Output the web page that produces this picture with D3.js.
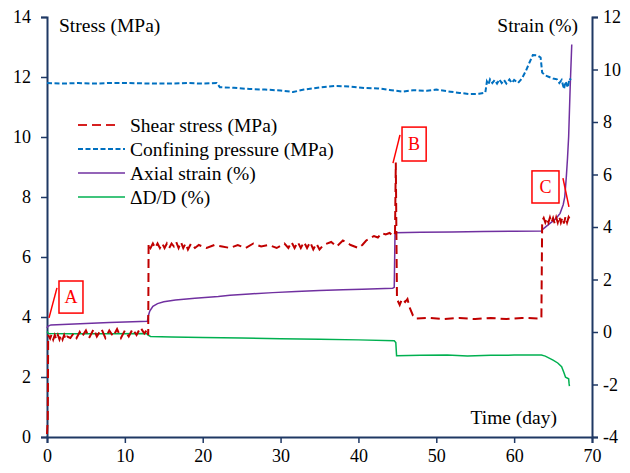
<!DOCTYPE html>
<html>
<head>
<meta charset="utf-8">
<script src="https://cdn.jsdelivr.net/npm/d3@7"></script>
<style>
  body { margin: 0; background: #fff; }
</style>
</head>
<body>
<div id="chart"></div>
<script>
// [day, value] pairs
const shearStress = [
  [0,0.1],[0.1,0.6],[0.15,3.4],[0.4,3.28],[0.6,3.42],[0.8,3.25],[1.0,3.4],[1.2,3.25],[1.4,3.4],[1.6,3.25],
  [1.8,3.4],[2.0,3.25],[2.2,3.4],[2.4,3.25],[2.6,3.35],[3.0,3.3],[3.4,3.45],[3.8,3.3],[4.2,3.5],[4.5,3.35],
  [5.0,3.55],[5.4,3.3],[6.0,3.6],[6.4,3.35],[7.0,3.6],[7.5,3.3],[8.0,3.55],[8.5,3.35],[9.0,3.6],[9.5,3.3],
  [10,3.55],[10.5,3.35],[11,3.6],[11.5,3.4],[12,3.65],[12.5,3.45],[12.9,3.6],[13.0,3.4],[13.05,6.45],
  [13.3,6.3],[13.6,6.45],[13.9,6.3],[14.2,6.45],[14.5,6.3],[14.8,6.45],[15.1,6.3],[15.4,6.45],[15.7,6.3],
  [16,6.45],[16.3,6.35],[16.6,6.5],[16.9,6.3],[17.2,6.5],[17.5,6.3],[17.8,6.45],[18.1,6.25],[18.5,6.45],
  [19,6.3],[19.5,6.4],[20.5,6.3],[21.5,6.4],[22.5,6.35],[23.5,6.3],[24.5,6.4],[25.5,6.3],[26.5,6.45],
  [27.5,6.35],[28.5,6.4],[29.5,6.3],[30.5,6.45],[31,6.3],[31.4,6.5],[31.8,6.3],[32.2,6.5],[32.6,6.3],
  [33,6.5],[33.4,6.3],[33.8,6.5],[34.2,6.25],[34.6,6.45],[35,6.25],[35.5,6.4],[36.5,6.5],[37.2,6.35],
  [38,6.55],[39,6.4],[40,6.3],[40.5,6.4],[41,6.55],[42,6.7],[42.5,6.65],[43,6.8],[43.5,6.75],[44,6.8],
  [44.5,6.7],[44.7,6.8],[44.8,9.15],[44.95,4.6],[45.3,4.4],[45.6,4.6],[46,4.5],[46.3,4.6],[46.6,4.3],
  [47,4.05],[47.3,3.95],[49,3.97],[51,3.93],[53,3.97],[55,3.93],[57,3.97],[59,3.93],[61,3.97],[63.5,3.95],
  [63.6,7.2],[63.8,7.3],[64.0,7.15],[64.2,7.3],[64.4,7.15],[64.6,7.32],[64.8,7.15],[65.0,7.3],[65.2,7.12],
  [65.4,7.32],[65.6,7.15],[65.8,7.35],[66.0,7.15],[66.2,7.32],[66.4,7.12],[66.6,7.35],[66.8,7.15],
  [67.0,7.33],[67.3,7.2]
];
const confiningPressure = [
  [0,11.8],[2,11.78],[4,11.8],[6,11.78],[8,11.8],[10,11.8],[12,11.79],[14,11.78],[16,11.78],[18,11.8],
  [20,11.78],[21.8,11.8],[22.2,11.66],[24,11.64],[26,11.6],[28,11.58],[30,11.55],[31.6,11.5],[33,11.58],
  [35,11.65],[37,11.7],[39,11.68],[41,11.63],[42.5,11.62],[44,11.57],[45.7,11.51],[47,11.56],[48.8,11.54],
  [50,11.58],[51.8,11.51],[53,11.47],[54.3,11.43],[55.5,11.44],[56.3,11.48],[56.5,11.85],[56.7,11.75],
  [56.9,11.92],[57.2,11.8],[57.5,11.9],[57.8,11.78],[58.1,11.92],[58.4,11.8],[58.7,11.9],[59,11.78],
  [59.4,11.92],[59.7,11.8],[60,11.9],[60.5,11.8],[61,11.95],[61.5,12.2],[62,12.5],[62.4,12.73],[63,12.72],
  [63.4,12.65],[63.6,12.15],[64,12.05],[64.5,12.0],[65,11.95],[65.5,11.92],[65.8,11.8],[66.1,11.9],
  [66.4,11.6],[66.6,11.85],[66.9,11.65],[67.1,11.95],[67.3,11.9]
];
const axialStrain = [
  [0,0.15],[0.1,0.22],[0.5,0.27],[2,0.29],[5,0.32],[8,0.36],[11,0.39],[12.9,0.41],[13,0.6],[13.2,0.8],
  [13.6,0.98],[14.2,1.08],[15,1.15],[16.5,1.22],[19,1.29],[22,1.35],[23.5,1.4],[26,1.45],[29,1.5],
  [32,1.54],[35,1.58],[38,1.61],[40.5,1.63],[44.4,1.67],[44.6,1.7],[44.7,3.78],[48,3.8],[52,3.81],
  [56,3.83],[60,3.84],[63.5,3.85],[63.7,3.92],[64.6,4.14],[65.3,4.3],[65.9,4.52],[66.3,4.85],[66.5,5.15],
  [66.7,5.9],[66.85,6.6],[67,7.44],[67.2,9.35],[67.4,10.95]
];
const diameterChange = [
  [0,0.02],[0.2,-0.06],[3,-0.07],[8,-0.07],[12.8,-0.06],[13,-0.12],[13.3,-0.17],[16,-0.19],[20,-0.21],
  [25,-0.23],[30,-0.26],[35,-0.28],[40,-0.3],[44.6,-0.33],[44.8,-0.4],[44.9,-0.9],[48,-0.89],[51.4,-0.88],
  [54,-0.91],[57,-0.89],[60,-0.88],[63.5,-0.88],[64,-0.92],[65,-1.07],[65.6,-1.18],[66.1,-1.32],
  [66.4,-1.55],[66.6,-1.72],[67,-1.78],[67.05,-1.95],[67.1,-2.06]
];

const xTicks = [0,10,20,30,40,50,60,70];
const stressTicks = [0,2,4,6,8,10,12,14];
const strainTicks = [-4,-2,0,2,4,6,8,10,12];

// stage markers: box corners and leader line in data units (day, MPa)
const stages = [
  { label: "A", box: [1.54, 4.62, 5.2, 4.13], lead: [[0.26, 3.97], [1.28, 4.97]] },
  { label: "B", box: [45.6, 48.7, 10.33, 9.2], lead: [[44.44, 9.13], [45.34, 10.07]] },
  { label: "C", box: [62.29, 65.76, 8.87, 7.8], lead: [[66.27, 8.63], [67.04, 7.67]] }
];

const width = 630, height = 473;
const margin = { top: 17, right: 38, bottom: 36, left: 47 };
const axisColor = "#1f3864";
const FONT = "'Liberation Serif', 'Times New Roman', serif";

const svg = d3.select("#chart").append("svg").attr("width", width).attr("height", height);

const x = d3.scaleLinear().domain([0, 70]).range([margin.left, width - margin.right]);
const yL = d3.scaleLinear().domain([0, 14]).range([height - margin.bottom, margin.top]);
const yR = d3.scaleLinear().domain([-4, 12]).range([height - margin.bottom, margin.top]);
const fmt = d => (d < 0 ? "-" + Math.abs(d) : String(d));

function styleAxis(g){
  g.attr("font-family", null).attr("font-size", null);
  g.select(".domain").attr("stroke", axisColor).attr("stroke-width", 2);
  g.selectAll(".tick line").attr("stroke", axisColor).attr("stroke-width", 1.5);
  g.selectAll(".tick text").attr("fill", "#000").attr("font-family", FONT).attr("font-size", 18);
}

svg.append("g").attr("transform", `translate(0,${height - margin.bottom})`)
  .call(d3.axisBottom(x).tickValues(xTicks).tickSizeOuter(0).tickSize(6).tickPadding(6).tickFormat(fmt))
  .call(styleAxis);
svg.append("g").attr("transform", `translate(${margin.left},0)`)
  .call(d3.axisLeft(yL).tickValues(stressTicks).tickSizeOuter(0).tickSize(6).tickPadding(10).tickFormat(fmt))
  .call(styleAxis);
svg.append("g").attr("transform", `translate(${width - margin.right},0)`)
  .call(d3.axisRight(yR).tickValues(strainTicks).tickSizeOuter(0).tickSize(6).tickPadding(5).tickFormat(fmt))
  .call(styleAxis);

const lineL = d3.line().x(d => x(d[0])).y(d => yL(d[1]));
const lineR = d3.line().x(d => x(d[0])).y(d => yR(d[1]));

const series = [
  { name: "Shear stress (MPa)", data: shearStress, gen: lineL, color: "#c00000", dash: "9,5", w: 2 },
  { name: "Confining pressure (MPa)", data: confiningPressure, gen: lineL, color: "#0070c0", dash: "5,2.5", w: 2 },
  { name: "Axial strain (%)", data: axialStrain, gen: lineR, color: "#7030a0", dash: null, w: 1.5 },
  { name: "\u0394D/D (%)", data: diameterChange, gen: lineR, color: "#00b050", dash: null, w: 1.5 }
];

// draw order: green, purple under the dashed stress lines
[series[3], series[2], series[1], series[0]].forEach(s => {
  svg.append("path").datum(s.data).attr("d", s.gen)
    .attr("fill", "none").attr("stroke", s.color).attr("stroke-width", s.w)
    .attr("stroke-dasharray", s.dash);
});

// stage markers
const mark = svg.append("g");
stages.forEach(s => {
  const [x0, x1, y0, y1] = s.box;
  mark.append("rect").attr("x", x(x0)).attr("y", yL(y0)).attr("width", x(x1) - x(x0)).attr("height", yL(y1) - yL(y0))
    .attr("fill", "#fff").attr("stroke", "#ff0000").attr("stroke-width", 1.5);
  mark.append("text").attr("x", (x(x0) + x(x1)) / 2).attr("y", (yL(y0) + yL(y1)) / 2 + 6)
    .attr("text-anchor", "middle").attr("fill", "#ff0000")
    .attr("font-family", FONT).attr("font-size", 18).text(s.label);
  mark.append("line").attr("x1", x(s.lead[0][0])).attr("y1", yL(s.lead[0][1]))
    .attr("x2", x(s.lead[1][0])).attr("y2", yL(s.lead[1][1])).attr("stroke", "#ff0000").attr("stroke-width", 1.5);
});

// legend
const legend = svg.append("g").attr("transform", "translate(78,125)");
series.forEach((s, i) => {
  const row = legend.append("g").attr("transform", `translate(0,${i * 24})`);
  row.append("line").attr("x1", 0).attr("x2", s.dash === "9,5" ? 42 : 47).attr("y1", 0).attr("y2", 0)
    .attr("stroke", s.color === "#c00000" ? "#d62020" : s.color).attr("stroke-width", s.w).attr("stroke-dasharray", s.dash);
  row.append("text").attr("x", 52).attr("y", 7).attr("font-family", FONT).attr("font-size", 19.5)
    .attr("fill", "#000").text(s.name);
});

// axis titles
const title = (tx, ty, anchor, str) => svg.append("text").attr("x", tx).attr("y", ty)
  .attr("text-anchor", anchor).attr("font-family", FONT).attr("font-size", 19.5).text(str);
title(59, 32, "start", "Stress (MPa)");
title(578, 32, "end", "Strain (%)");
title(557, 424, "end", "Time (day)");
</script>
</body>
</html>
